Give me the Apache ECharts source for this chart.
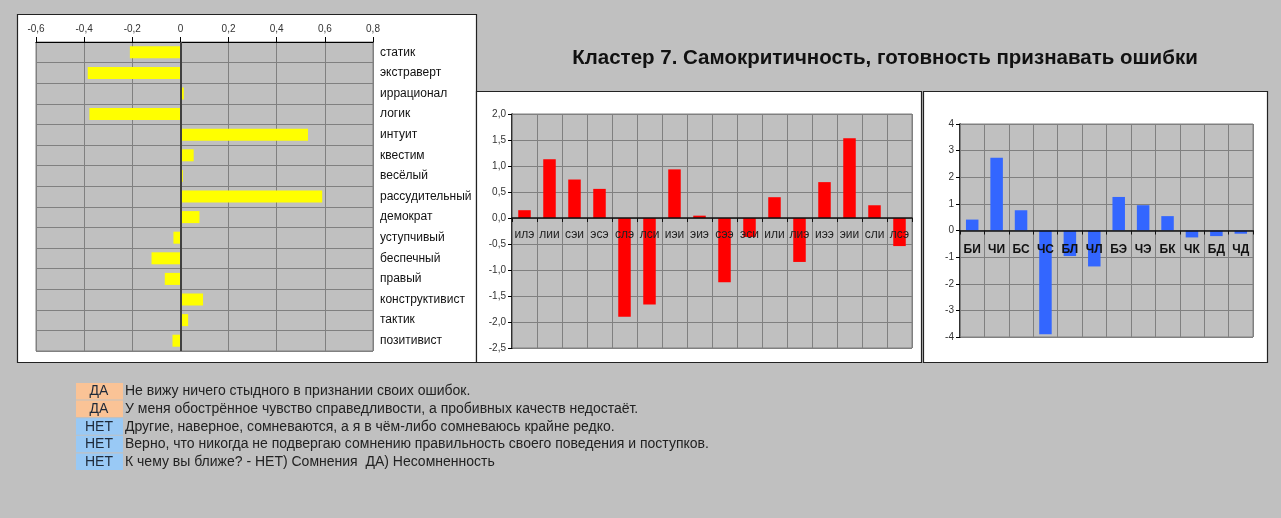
<!DOCTYPE html>
<html>
<head>
<meta charset="utf-8">
<title>Кластер 7</title>
<script src="https://cdn.jsdelivr.net/npm/echarts@6/dist/echarts.min.js"></script>
<style>
  html, body { margin: 0; padding: 0; background: #c0c0c0; }
  #chart { width: 1281px; height: 518px; }
</style>
</head>
<body>
<div id="chart"></div>
<script>
// данные: признаки (левый график)
var traitNames = ['статик', 'экстраверт', 'иррационал', 'логик', 'интуит', 'квестим', 'весёлый',
  'рассудительный', 'демократ', 'уступчивый', 'беспечный', 'правый', 'конструктивист', 'тактик', 'позитивист']
var traitValues = [-0.21, -0.385, 0.014, -0.378, 0.53, 0.055, 0.01, 0.589, 0.079, -0.029, -0.12, -0.065, 0.094, 0.032, -0.033]
var traitTicks = [-0.6, 0.8, 0.2]

// данные: типы (средний график)
var typeNames = ['илэ', 'лии', 'сэи', 'эсэ', 'слэ', 'лси', 'иэи', 'эиэ', 'сээ', 'эси', 'или', 'лиэ', 'иээ', 'эии', 'сли', 'лсэ']
var typeValues = [0.15, 1.13, 0.74, 0.56, -1.9, -1.665, 0.935, 0.045, -1.235, -0.365, 0.4, -0.845, 0.69, 1.535, 0.245, -0.54]
var typeTicks = [-2.5, 2.0, 0.5]

// данные: функции (правый график)
var funcNames = ['БИ', 'ЧИ', 'БС', 'ЧС', 'БЛ', 'ЧЛ', 'БЭ', 'ЧЭ', 'БК', 'ЧК', 'БД', 'ЧД']
var funcValues = [0.41, 2.73, 0.76, -3.9, -0.96, -1.35, 1.26, 0.95, 0.54, -0.26, -0.21, -0.12]
var funcTicks = [-4, 4, 1]

// вопросы и ответы
var answers = ['ДА', 'ДА', 'НЕТ', 'НЕТ', 'НЕТ']
var questions = [
  'Не вижу ничего стыдного в признании своих ошибок.',
  'У меня обострённое чувство справедливости, а пробивных качеств недостаёт.',
  'Другие, наверное, сомневаются, а я в чём-либо сомневаюсь крайне редко.',
  'Верно, что никогда не подвергаю сомнению правильность своего поведения и поступков.',
  'К чему вы ближе? - НЕТ) Сомнения  ДА) Несомненность'
]

var titleText = 'Кластер 7. Самокритичность, готовность признавать ошибки'
var FONT = '"Liberation Sans", Arial, sans-serif'
var GRID_LINE = '#808080'

function comma(v) {
  if (Math.abs(v) < 1e-9) return '0'
  return v.toFixed(1).replace('.', ',')
}
function commaKeep(v) {
  if (Math.abs(v) < 1e-9) v = 0
  return v.toFixed(1).replace('.', ',')
}
// сдвиг оси категорий от низа сетки до нуля
function zeroOffset(ticks, height) {
  return -height * (0 - ticks[0]) / (ticks[1] - ticks[0])
}

(function () {
  var g1 = { left: 512, top: 114, width: 400, height: 234 }
  var g2 = { left: 960, top: 124, width: 293, height: 213 }
  var graphic = [
    // панели
    { type: 'rect', z: -10, shape: { x: 17.5, y: 14.5, width: 459, height: 348 }, style: { fill: '#fff', stroke: '#222', lineWidth: 1.2 } },
    { type: 'rect', z: -10, shape: { x: 476.5, y: 91.5, width: 445, height: 271 }, style: { fill: '#fff', stroke: '#222', lineWidth: 1.2 } },
    { type: 'rect', z: -10, shape: { x: 923.5, y: 91.5, width: 344, height: 271 }, style: { fill: '#fff', stroke: '#222', lineWidth: 1.2 } },
    // заголовок
    { type: 'text', x: 885, y: 58, style: { text: titleText, font: 'bold 20.5px ' + FONT, fill: '#111', align: 'center', verticalAlign: 'middle' } }
  ]
  // строки с ответами
  answers.forEach(function (a, i) {
    var y = 383 + i * 17.6
    graphic.push({ type: 'rect', shape: { x: 76, y: y, width: 47, height: 16.5 }, style: { fill: a === 'ДА' ? '#fac396' : '#99c9f5' } })
    graphic.push({ type: 'text', x: 99, y: y + 8.5, style: { text: a, font: '14px ' + FONT, fill: '#1e2a3a', align: 'center', verticalAlign: 'middle' } })
    graphic.push({ type: 'text', x: 125, y: y + 8.5, style: { text: questions[i], font: '14px ' + FONT, fill: '#222', align: 'left', verticalAlign: 'middle' } })
  })

  var option = {
    backgroundColor: '#c0c0c0',
    animation: false,
    textStyle: { fontFamily: FONT },
    graphic: graphic,
    grid: [
      { left: 36, top: 42, width: 337, height: 309, show: true, backgroundColor: '#c0c0c0', borderColor: GRID_LINE, borderWidth: 1 },
      { left: g1.left, top: g1.top, width: g1.width, height: g1.height, show: true, backgroundColor: '#c0c0c0', borderColor: GRID_LINE, borderWidth: 1 },
      { left: g2.left, top: g2.top, width: g2.width, height: g2.height, show: true, backgroundColor: '#c0c0c0', borderColor: GRID_LINE, borderWidth: 1 }
    ],
    xAxis: [
      {
        gridIndex: 0, type: 'value', position: 'top',
        min: traitTicks[0], max: traitTicks[1], interval: traitTicks[2],
        axisLine: { show: true, lineStyle: { color: '#000', width: 1 } },
        axisTick: { show: true, length: 5, lineStyle: { color: '#000' } },
        axisLabel: { fontSize: 10, color: '#333', margin: 8, formatter: comma },
        splitLine: { show: true, lineStyle: { color: GRID_LINE, width: 1 } }
      },
      {
        gridIndex: 1, type: 'category', data: typeNames, z: 10,
        offset: zeroOffset(typeTicks, g1.height),
        axisLine: { onZero: false, lineStyle: { color: '#111', width: 1.5 } },
        axisTick: { show: true, interval: 0, length: 4, lineStyle: { color: '#111' } },
        axisLabel: { interval: 0, fontSize: 12, color: '#222', margin: 11 },
        splitLine: { show: true, interval: 0, lineStyle: { color: GRID_LINE, width: 1 } }
      },
      {
        gridIndex: 2, type: 'category', data: funcNames, z: 10,
        offset: zeroOffset(funcTicks, g2.height),
        axisLine: { onZero: false, lineStyle: { color: '#111', width: 1.5 } },
        axisTick: { show: true, interval: 0, length: 4, lineStyle: { color: '#111' } },
        axisLabel: { interval: 0, fontSize: 12, fontWeight: 'bold', color: '#111', margin: 13 },
        splitLine: { show: true, interval: 0, lineStyle: { color: GRID_LINE, width: 1 } }
      }
    ],
    yAxis: [
      {
        gridIndex: 0, type: 'category', data: traitNames, inverse: true, position: 'right',
        axisLine: { show: false },
        axisTick: { show: false },
        axisLabel: { interval: 0, fontSize: 12, color: '#111', margin: 7 },
        splitLine: { show: true, interval: 0, lineStyle: { color: GRID_LINE, width: 1 } }
      },
      {
        gridIndex: 1, type: 'value',
        min: typeTicks[0], max: typeTicks[1], interval: typeTicks[2],
        axisLine: { show: true, lineStyle: { color: '#000', width: 1.5 } },
        axisTick: { show: true, length: 4, lineStyle: { color: '#000' } },
        axisLabel: { fontSize: 10, color: '#333', margin: 6, formatter: commaKeep },
        splitLine: { show: true, lineStyle: { color: GRID_LINE, width: 1 } }
      },
      {
        gridIndex: 2, type: 'value',
        min: funcTicks[0], max: funcTicks[1], interval: funcTicks[2],
        axisLine: { show: true, lineStyle: { color: '#000', width: 1.5 } },
        axisTick: { show: true, length: 4, lineStyle: { color: '#000' } },
        axisLabel: { fontSize: 10, color: '#333', margin: 6 },
        splitLine: { show: true, lineStyle: { color: GRID_LINE, width: 1 } }
      }
    ],
    series: [
      {
        name: 'признаки', type: 'bar', xAxisIndex: 0, yAxisIndex: 0,
        data: traitValues, barWidth: 12,
        itemStyle: { color: '#ffff00' },
        markLine: {
          silent: true, symbol: 'none', label: { show: false },
          lineStyle: { color: '#404040', width: 2, type: 'solid' },
          data: [{ xAxis: 0 }]
        }
      },
      {
        name: 'типы', type: 'bar', xAxisIndex: 1, yAxisIndex: 1,
        data: typeValues, barWidth: 12.5,
        itemStyle: { color: '#ff0000' }
      },
      {
        name: 'функции', type: 'bar', xAxisIndex: 2, yAxisIndex: 2,
        data: funcValues, barWidth: 12.5,
        itemStyle: { color: '#3366ff' }
      }
    ]
  }
  var myChart = echarts.init(document.getElementById('chart'))
  myChart.setOption(option)
})();
</script>
</body>
</html>
